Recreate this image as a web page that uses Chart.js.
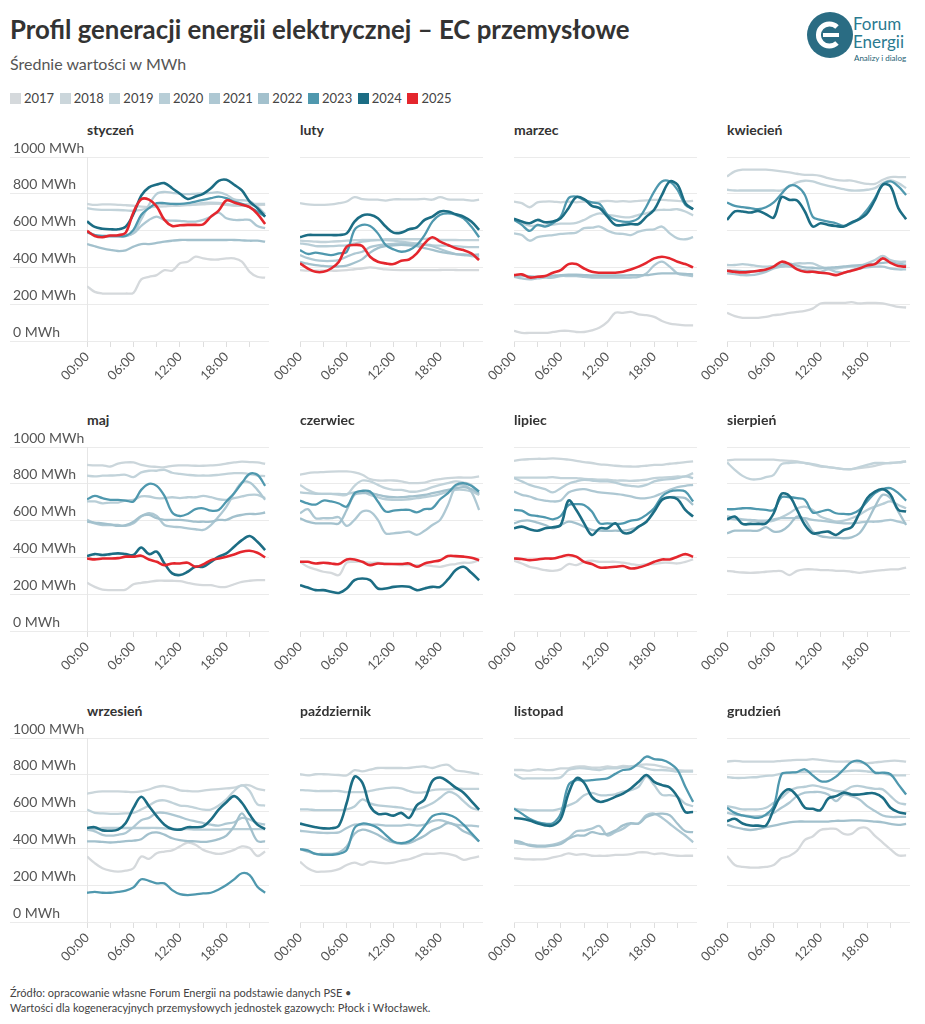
<!DOCTYPE html>
<html>
<head>
<meta charset="utf-8">
<script src="https://cdn.jsdelivr.net/npm/chart.js@4.4.0/dist/chart.umd.min.js"></script>
<style>
  body { margin: 0; width: 925px; height: 1024px; background: #fff; position: relative; overflow: hidden;
         font-family: Lato, "Noto Sans", sans-serif; color: #333; }
  .abs { position: absolute; }
  #title { left: 10px; top: 14px; font-size: 25.8px; font-weight: 700; color: #333; white-space: nowrap; }
  #subtitle { left: 10px; top: 54px; font-size: 16px; color: #555; }
  #legend { left: 10px; top: 90px; display: flex; gap: 5.5px; font-size: 13px; color: #444; }
  #legend span.sw { display: inline-block; width: 11px; height: 11px; margin-right: 3px; vertical-align: -1px; }
  .mtitle { font-size: 14px; font-weight: 700; color: #333; }
  #footer { left: 10px; top: 985px; font-size: 11px; color: #444; line-height: 15px; }
  #logoText { left: 853px; top: 15px; color: #2b7a90; font-size: 17px; line-height: 18px; }
  #logoSub { left: 854px; top: 53px; color: #1d5e73; font-size: 8px; }
</style>
</head>
<body>
<div id="title" class="abs">Profil generacji energii elektrycznej – EC przemysłowe</div>
<div id="subtitle" class="abs">Średnie wartości w MWh</div>
<div id="legend" class="abs"></div>

<svg class="abs" style="left:807px;top:12px" width="46" height="46" viewBox="0 0 46 46">
  <circle cx="23" cy="23" r="23" fill="#2a6c83"/>
  <path d="M30 15 A11 11 0 1 0 30 31" fill="none" stroke="#fff" stroke-width="5"/>
  <line x1="16" y1="23" x2="32" y2="23" stroke="#fff" stroke-width="4"/>
</svg>
<div id="logoText" class="abs">Forum<br>Energii</div>
<div id="logoSub" class="abs">Analizy i dialog</div>

<div id="footer" class="abs">Źródło: opracowanie własne Forum Energii na podstawie danych PSE •<br>Wartości dla kogeneracyjnych przemysłowych jednostek gazowych: Płock i Włocławek.</div>

<script>
const years = [2017, 2018, 2019, 2020, 2021, 2022, 2023, 2024, 2025];
const yearColors = ['#d5d9dc', '#cbd6db', '#c2d3da', '#b8ced7', '#aec8d3', '#a3c1cd', '#4f98ae', '#1c6d84', '#e4262d'];
const hours = [0,1,2,3,4,5,6,7,8,9,10,11,12,13,14,15,16,17,18,19,20,21,22,23];
const hourLabels = ['00:00', '06:00', '12:00', '18:00'];
const yTicks = [0, 200, 400, 600, 800, 1000];
const monthNames = ['styczeń', 'luty', 'marzec', 'kwiecień', 'maj', 'czerwiec',
                    'lipiec', 'sierpień', 'wrzesień', 'październik', 'listopad', 'grudzień'];

// each month: one row per year 2017..2025 (null = no data)
const styczen = [
  [298,267,258,258,258,258,262,335,349,358,385,382,422,431,458,449,443,443,449,449,431,376,349,344],
  [745,740,742,742,740,738,735,730,728,730,732,735,735,738,740,742,745,745,740,735,735,737,738,740],
  [722,715,713,713,712,710,708,712,725,740,745,745,742,740,745,750,752,750,745,740,742,745,745,745],
  [590,575,570,568,568,570,590,660,740,800,810,805,800,798,800,802,805,808,795,770,765,760,730,690],
  [594,576,567,567,567,571,585,625,658,676,658,654,653,649,649,658,676,698,667,658,658,658,625,613],
  [527,515,504,495,489,493,513,527,527,533,540,545,549,549,549,549,549,549,549,549,547,545,545,540],
  [593,576,571,571,571,571,604,685,722,749,749,745,745,749,758,767,776,785,776,758,745,727,704,676],
  [650,620,610,607,607,622,690,790,835,850,858,830,800,772,785,800,830,870,876,849,818,758,722,676],
  [598,571,564,573,575,589,700,770,768,731,658,625,629,631,631,634,676,709,764,753,740,727,691,636]
];
const luty = [
  [385,382,382,382,382,382,385,390,394,400,395,389,386,385,385,385,385,385,386,387,386,385,385,385],
  [749,742,740,740,742,749,758,782,771,768,768,763,770,770,770,770,772,768,782,770,768,768,763,768],
  [545,543,540,538,540,542,545,548,549,550,550,553,553,553,553,553,555,558,550,549,549,548,548,549],
  [531,525,516,515,516,518,520,530,540,545,548,548,545,540,535,530,525,520,518,518,515,512,510,510],
  [467,450,440,435,435,440,458,475,485,510,520,525,528,530,528,525,522,515,500,485,472,467,462,458],
  [430,420,412,408,405,405,410,425,445,480,505,515,520,522,520,515,505,495,485,478,472,470,468,470],
  [494,473,480,473,467,476,485,604,631,625,585,522,498,485,494,522,576,649,686,694,686,667,622,564],
  [564,576,576,576,576,576,585,649,682,686,667,622,589,589,607,618,658,676,704,704,689,676,649,604],
  [422,394,376,376,394,431,513,522,516,458,431,422,418,436,443,476,531,564,540,522,504,494,476,440]
];
const marzec = [
  [55,44,44,44,44,49,55,55,49,49,58,73,104,153,153,158,145,140,131,109,95,89,85,85],
  [758,749,727,753,758,758,753,758,753,758,753,758,762,758,760,758,762,764,767,767,764,762,758,762],
  [664,642,627,627,627,633,638,638,642,658,680,694,686,680,673,673,686,694,709,713,713,716,704,682],
  [585,576,545,564,571,576,582,585,589,613,616,622,600,585,582,576,594,604,607,622,585,558,553,564],
  [349,340,335,340,344,344,353,353,353,349,345,345,345,345,344,345,349,367,411,431,404,367,358,353],
  [353,355,352,350,352,355,358,360,360,358,356,356,356,356,356,358,358,358,364,367,367,367,365,362],
  [658,631,598,631,622,640,676,776,785,767,753,745,686,658,649,649,667,731,812,867,867,821,740,716],
  [664,649,640,658,645,649,667,722,782,771,735,722,676,631,631,636,636,676,713,794,867,849,749,716],
  [358,362,345,349,353,371,385,418,418,394,376,371,371,371,376,389,404,425,449,458,449,431,418,400]
];
const kwiecien = [
  [153,135,126,126,126,131,140,145,153,158,164,176,204,207,207,207,211,204,207,207,204,195,185,182],
  [894,922,931,931,931,931,927,922,916,909,903,903,898,885,876,872,872,862,854,854,876,891,891,891],
  [822,818,818,818,818,818,818,818,840,862,871,867,854,843,834,825,818,818,822,831,858,873,858,831],
  [413,413,418,413,407,404,407,404,413,422,422,422,404,394,394,400,404,407,422,440,462,440,431,431],
  [367,364,358,358,364,376,394,404,404,394,385,382,376,389,376,371,385,394,400,404,404,394,389,389],
  [385,382,380,380,378,380,400,415,420,410,400,398,395,398,402,405,410,412,415,420,425,428,420,415],
  [753,734,727,722,716,727,753,800,843,840,794,676,658,649,640,625,640,667,713,776,849,867,840,794],
  [658,704,704,698,707,689,671,782,767,764,704,622,640,631,625,622,645,662,694,767,849,840,722,662],
  [382,376,373,376,382,389,404,431,418,389,376,376,371,367,358,371,382,394,411,418,449,425,407,404]
];
const maj = [
  [262,240,225,222,222,225,254,262,267,273,273,273,271,262,254,249,249,240,240,254,267,273,276,276],
  [903,900,900,894,910,916,916,903,895,892,890,898,900,900,898,898,900,903,910,916,920,918,916,909],
  [844,840,844,845,847,849,836,862,871,871,876,860,854,849,845,845,845,849,854,858,858,853,845,842],
  [704,704,694,698,698,709,713,731,731,722,722,727,722,727,727,734,727,716,713,722,731,740,740,722],
  [604,585,576,576,576,571,585,622,640,625,576,567,564,558,553,549,576,622,676,749,807,807,767,713],
  [594,589,585,580,571,576,594,625,631,613,604,604,604,600,594,594,594,604,604,622,631,636,636,644],
  [716,734,722,713,713,709,704,767,800,789,734,644,625,636,662,667,654,658,704,749,804,854,849,789],
  [407,418,413,418,422,418,413,454,418,431,367,313,304,322,349,349,376,404,422,458,494,516,485,440],
  [394,389,394,394,396,404,404,409,389,376,358,367,367,371,349,362,385,394,404,416,431,436,425,400]
];
const czerwiec = [
  [376,349,335,322,316,304,371,376,376,371,371,367,364,358,358,358,358,353,349,358,364,371,371,385],
  [849,858,862,864,866,867,867,862,849,825,818,818,818,813,804,804,807,818,825,831,834,834,834,840],
  [794,767,749,745,745,740,740,789,818,813,794,776,767,767,758,758,767,782,794,804,813,807,794,740],
  [753,749,745,745,745,745,744,753,758,740,727,716,713,713,716,722,727,734,745,758,767,767,758,740],
  [640,662,613,613,613,618,571,604,649,649,604,531,531,535,540,522,545,576,604,685,785,794,758,658],
  [613,594,585,585,585,585,658,740,749,749,740,731,727,727,731,734,740,749,758,767,776,782,771,749],
  [709,693,687,709,704,693,676,749,762,758,704,649,654,658,658,645,662,667,716,749,794,804,789,758],
  [249,236,222,222,213,207,231,276,285,276,231,231,240,243,240,222,231,240,240,280,331,349,316,276],
  [376,376,367,371,367,364,389,389,376,358,367,364,364,364,367,349,367,376,385,407,407,404,398,385]
];
const lipiec = [
  [382,367,349,340,331,327,335,364,358,376,382,376,376,376,371,364,358,364,364,371,371,367,376,389],
  [925,931,934,936,936,938,936,931,925,918,913,905,903,898,895,894,894,898,903,903,909,913,918,922],
  [834,834,834,834,834,836,831,831,831,827,825,822,822,818,818,816,818,822,831,834,836,840,840,858],
  [831,813,794,782,771,753,776,800,813,822,818,813,813,807,794,789,785,794,813,822,825,831,840,831],
  [758,740,731,716,709,704,709,753,767,771,762,753,749,745,740,731,722,722,731,749,767,782,789,794],
  [585,598,600,589,576,558,576,594,585,567,549,545,544,545,545,553,567,594,658,713,727,727,722,685],
  [658,654,631,625,618,607,625,685,689,685,649,585,585,582,585,600,607,631,667,731,758,764,758,704],
  [558,567,553,545,558,564,576,709,658,585,522,558,558,585,535,535,567,594,649,713,727,716,658,622],
  [394,391,385,389,394,394,404,413,404,376,364,345,345,349,353,340,345,358,376,389,389,404,418,404]
];
const sierpien = [
  [327,322,318,316,318,322,325,325,304,327,335,335,331,331,327,327,322,316,322,327,331,335,335,345],
  [927,931,931,931,931,931,931,927,925,922,913,903,894,891,885,880,880,885,891,898,909,913,916,922],
  [916,876,843,825,825,836,849,907,913,916,913,907,898,891,885,880,880,891,903,913,913,913,916,922],
  [625,613,607,600,594,594,600,618,640,667,676,658,622,607,594,600,613,631,658,676,691,704,685,667],
  [613,607,604,604,600,600,607,613,613,613,613,604,600,594,589,585,585,589,594,594,598,604,594,585],
  [531,545,545,545,545,564,540,544,576,622,604,540,516,509,507,504,509,531,594,676,740,722,649,576],
  [662,662,667,667,662,658,658,727,727,722,713,644,649,658,640,636,636,658,704,749,771,776,749,709],
  [607,622,582,582,582,585,640,745,734,658,576,531,535,540,522,549,564,640,722,758,771,740,658,649],
  null
];
const wrzesien = [
  [356,320,292,279,274,279,292,356,343,374,383,389,411,432,420,392,378,370,378,392,411,402,359,383],
  [697,706,710,710,710,708,706,710,720,735,739,730,716,712,710,714,720,722,726,730,743,743,724,715],
  [611,593,590,588,588,590,593,611,633,657,661,648,633,630,620,611,611,633,666,712,743,712,639,633],
  [505,505,511,511,511,511,511,511,511,511,509,507,505,505,502,502,502,502,505,505,505,505,505,505],
  [502,493,474,469,474,484,516,553,566,593,593,584,571,557,547,538,529,524,535,542,566,557,538,529],
  [438,438,435,432,435,440,442,450,480,487,475,455,445,440,438,435,440,450,470,520,590,520,440,438],
  [159,164,159,159,164,170,188,232,224,210,210,173,151,146,150,155,159,177,201,232,265,255,192,159],
  [511,515,498,496,502,538,620,681,630,575,529,505,502,515,515,520,557,611,651,684,648,584,529,505],
  null
];
const pazdziernik = [
  [328,292,274,274,277,287,310,323,310,328,323,319,323,334,341,356,370,370,374,370,359,338,347,356],
  [803,797,803,803,801,799,797,825,819,828,837,837,837,837,837,843,845,837,850,854,825,819,812,803],
  [717,715,712,712,712,712,706,706,706,712,721,728,730,726,712,703,706,717,721,721,724,724,724,724],
  [612,612,608,608,608,608,612,628,666,645,634,630,626,621,612,612,626,645,675,706,694,657,621,608],
  [496,491,487,484,484,487,511,529,529,529,529,524,524,524,529,524,529,548,553,542,529,524,524,520],
  [396,383,370,370,370,378,411,480,502,493,474,449,432,425,429,447,469,498,515,538,524,493,474,438],
  [396,389,370,365,365,370,392,511,535,529,511,474,438,429,438,469,520,575,588,584,566,529,484,438],
  [535,524,515,509,509,524,648,790,757,630,588,588,578,593,566,634,666,766,785,763,730,703,657,611],
  null
];
const listopad = [
  [347,342,340,340,342,351,360,373,365,369,360,360,360,365,365,369,378,378,369,373,365,360,360,360],
  [826,826,823,830,826,826,835,835,845,845,839,839,845,841,848,845,854,857,854,845,835,826,823,823],
  [804,781,781,781,781,781,786,826,835,835,830,826,835,835,841,845,848,835,826,826,823,817,817,817],
  [616,610,607,607,607,607,616,634,653,689,702,689,689,694,708,717,735,790,744,691,689,680,643,629],
  [433,424,420,415,415,420,433,457,493,497,507,521,470,488,507,534,537,580,589,567,534,501,470,433],
  [442,433,415,410,410,415,424,452,470,470,488,479,479,497,525,537,534,570,585,589,580,534,493,488],
  [616,589,561,543,534,537,589,744,771,768,771,775,781,805,826,832,863,899,885,881,863,826,735,653],
  [565,561,552,537,525,525,561,698,781,757,680,653,662,680,698,726,762,799,762,744,731,680,598,598],
  null
];
const grudzien = [
  [359,310,299,296,296,299,310,346,359,387,446,465,500,506,506,479,479,510,510,468,432,395,362,362],
  [872,876,872,872,872,872,872,876,878,881,881,885,881,876,872,872,872,867,863,867,872,876,876,872],
  [788,783,783,786,788,794,797,806,812,815,815,818,818,818,818,818,822,822,818,812,806,799,797,797],
  [630,621,612,612,612,621,648,675,712,730,735,743,735,724,712,712,735,739,730,724,721,684,648,639],
  [593,584,580,575,575,580,593,621,648,684,703,706,706,693,657,693,684,666,630,603,579,571,571,571],
  [528,515,506,500,506,515,524,533,542,546,546,546,546,546,550,550,552,552,550,546,542,533,528,533],
  [621,593,579,571,566,584,630,803,812,815,830,797,766,766,790,830,870,876,853,812,812,803,748,693],
  [548,561,535,524,524,524,612,693,721,684,621,615,608,671,684,703,693,693,699,699,675,621,597,588],
  null
];
const monthData = [styczen, luty, marzec, kwiecien, maj, czerwiec, lipiec, sierpien, wrzesien, pazdziernik, listopad, grudzien];

// legend
const legend = document.getElementById('legend');
years.forEach((yr, k) => {
  const item = document.createElement('div');
  item.innerHTML = '<span class="sw" style="background:' + yearColors[k] + '"></span>' + yr;
  legend.appendChild(item);
});

const plotLefts = [87, 300, 514, 727];
const gridTops = [157, 447, 738];

monthData.forEach((series, m) => {
  const col = m % 4, row = Math.floor(m / 4);
  const showY = col === 0;
  const plotLeft = plotLefts[col], gridTop = gridTops[row];

  const t = document.createElement('div');
  t.className = 'abs mtitle';
  t.style.left = plotLeft + 'px';
  t.style.top = (gridTop - 36) + 'px';
  t.textContent = monthNames[m];
  document.body.appendChild(t);

  const cv = document.createElement('canvas');
  const left = showY ? 10 : plotLeft - 40;
  const width = showY ? 260 : 224;
  cv.width = width; cv.height = 260;
  cv.className = 'abs';
  cv.style.left = left + 'px';
  cv.style.top = (gridTop - 17) + 'px';
  document.body.appendChild(cv);

  const datasets = [];
  years.forEach((yr, k) => {
    if (!series[k]) return;
    datasets.push({
      label: String(yr),
      data: hours.map((h, i) => ({ x: h, y: series[k][i] })),
      borderColor: yearColors[k],
      borderWidth: k >= 7 ? 2.6 : 2.3,
      pointRadius: 0,
      tension: 0.35,
      fill: false,
      order: years.length - k
    });
  });

  new Chart(cv.getContext('2d'), {
    type: 'line',
    data: { datasets: datasets },
    options: {
      responsive: false,
      animation: false,
      devicePixelRatio: 1,
      layout: { padding: { left: showY ? 3 : 0, top: 17, right: 1, bottom: 0 } },
      plugins: { legend: { display: false }, tooltip: { enabled: false } },
      scales: {
        x: {
          type: 'linear', min: 0, max: 23.5,
          afterFit: s => { s.height = 59; },
          border: { display: false },
          grid: { drawOnChartArea: false, drawTicks: true, tickLength: 6, color: '#dedede' },
          ticks: {
            stepSize: 3, includeBounds: false, autoSkip: false,
            maxRotation: 45, minRotation: 45, padding: 2,
            color: '#555', font: { family: 'Lato', size: 13 },
            callback: v => (v % 6 === 0 ? hourLabels[v / 6] : '')
          }
        },
        y: {
          min: 0, max: 1000,
          afterFit: s => { s.width = showY ? 74 : 40; },
          afterBuildTicks: s => { s.ticks = yTicks.map(v => ({ value: v })); },
          border: { display: showY, color: '#e6e6e6' },
          grid: { color: '#ebebeb', drawTicks: showY, tickLength: 77 },
          ticks: {
            display: showY, crossAlign: 'far', labelOffset: -9, padding: 0,
            color: '#555', font: { family: 'Lato', size: 14 },
            callback: v => v + ' MWh'
          }
        }
      }
    }
  });
});
</script>
</body>
</html>
